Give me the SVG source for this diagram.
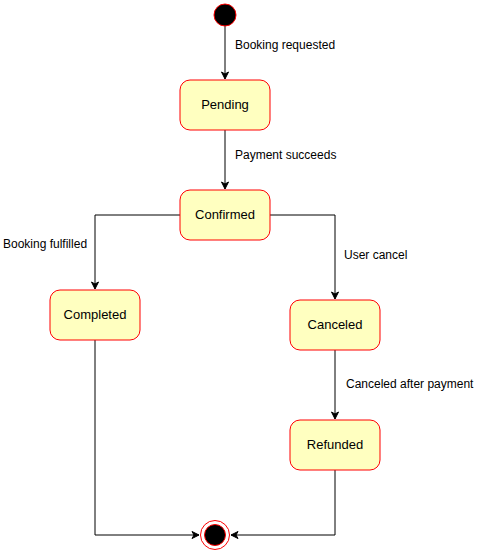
<svg xmlns="http://www.w3.org/2000/svg" width="480" height="551" viewBox="0 0 480 551">
<style>
.st{fill:#FFFFC0;stroke:#FF0000;stroke-width:1}
.nt{font-family:"Liberation Sans",Arial,sans-serif;font-size:13px;fill:#000;text-anchor:middle}
.lb{font-family:"Liberation Sans",Arial,sans-serif;font-size:12px;fill:#000}
.cn{fill:none;stroke:#000;stroke-width:1}
</style>
<defs>
<marker id="arr" markerWidth="10" markerHeight="10" refX="8" refY="5" orient="auto" markerUnits="userSpaceOnUse">
<path d="M1,1.5 L8,5 L1,8.5 L3,5 Z" fill="#000" stroke="#000" stroke-width="1"/>
</marker>
</defs>
<rect width="480" height="551" fill="#fff"/>
<g id="connectors">
<path class="cn" d="M225,26 L225,79" marker-end="url(#arr)"/>
<path class="cn" d="M225,130 L225,189" marker-end="url(#arr)"/>
<path class="cn" d="M180,215 L95,215 L95,289" marker-end="url(#arr)"/>
<path class="cn" d="M270,215 L335,215 L335,299" marker-end="url(#arr)"/>
<path class="cn" d="M335,350 L335,419" marker-end="url(#arr)"/>
<path class="cn" d="M95,340 L95,535 L199,535" marker-end="url(#arr)"/>
<path class="cn" d="M335,470 L335,535 L231,535" marker-end="url(#arr)"/>
<text class="lb" x="235" y="49">Booking requested</text>
<text class="lb" x="235" y="159">Payment succeeds</text>
<text class="lb" x="3" y="248">Booking fulfilled</text>
<text class="lb" x="344" y="259">User cancel</text>
<text class="lb" x="346" y="388">Canceled after payment</text>
</g>
<g id="start"><circle cx="225" cy="15" r="11" fill="#000" stroke="#FF0000"/></g>
<g id="pending"><rect class="st" x="180" y="80" width="90" height="50" rx="10"/><text class="nt" x="225" y="109">Pending</text></g>
<g id="confirmed"><rect class="st" x="180" y="190" width="90" height="50" rx="10"/><text class="nt" x="225" y="219">Confirmed</text></g>
<g id="completed"><rect class="st" x="50" y="290" width="90" height="50" rx="10"/><text class="nt" x="95" y="319">Completed</text></g>
<g id="canceled"><rect class="st" x="290" y="300" width="90" height="50" rx="10"/><text class="nt" x="335" y="329">Canceled</text></g>
<g id="refunded"><rect class="st" x="290" y="420" width="90" height="50" rx="10"/><text class="nt" x="335" y="449">Refunded</text></g>
<g id="end"><circle cx="215" cy="535" r="14.5" fill="#fff" stroke="#FF0000"/><circle cx="215" cy="535" r="10.5" fill="#000" stroke="#FF0000"/></g>
</svg>
